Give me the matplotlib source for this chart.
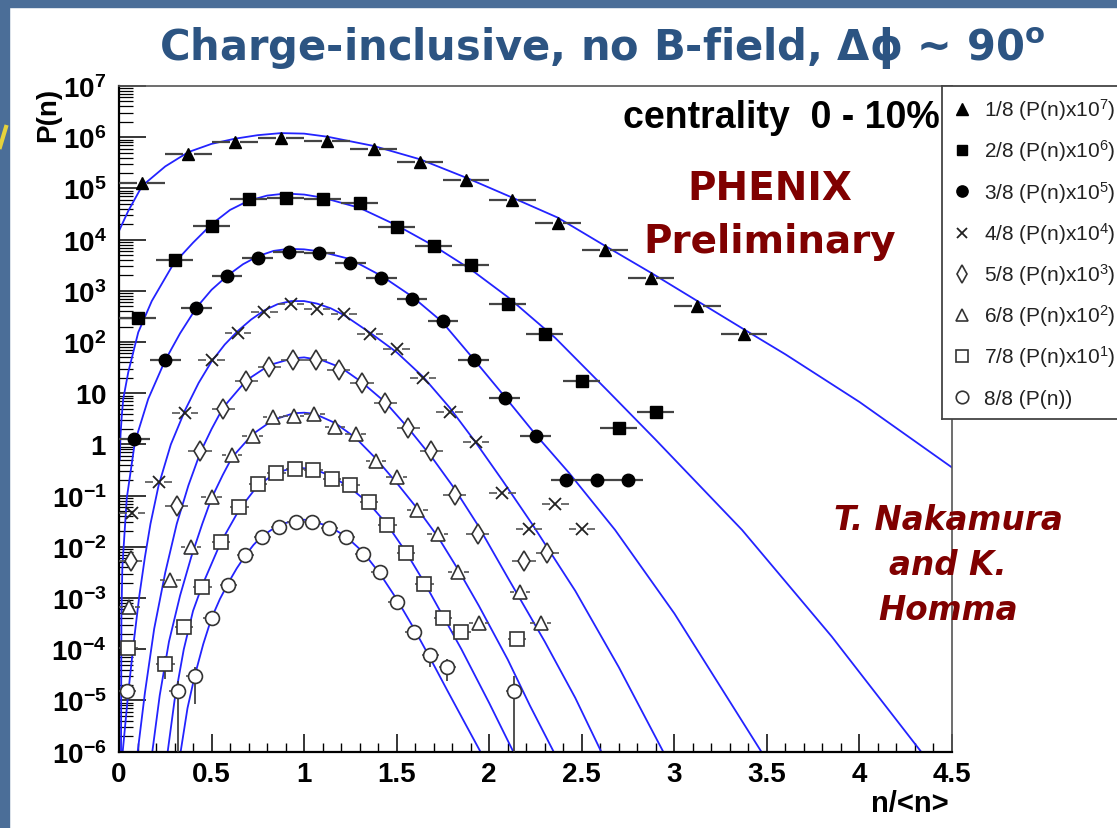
import numpy as np
import matplotlib
matplotlib.use("Agg")
import matplotlib.pyplot as plt
from matplotlib.ticker import FixedLocator, MultipleLocator, FuncFormatter, LogLocator, NullFormatter
from matplotlib.patches import Rectangle
from matplotlib.lines import Line2D

plt.rcParams['font.family'] = ['Liberation Sans', 'DejaVu Sans']
plt.rcParams['font.weight'] = 'bold'
plt.rcParams['mathtext.fontset'] = 'custom'
plt.rcParams['mathtext.rm'] = 'Liberation Sans'
plt.rcParams['mathtext.bf'] = 'Liberation Sans:bold'
plt.rcParams['mathtext.it'] = 'Liberation Sans:italic'
plt.rcParams['mathtext.default'] = 'regular'

# ---------------- data (n/<n>, log10 of scaled P(n)) ----------------
labels = ["1/8 (P(n)x10$^{7}$)", "2/8 (P(n)x10$^{6}$)", "3/8 (P(n)x10$^{5}$)",
          "4/8 (P(n)x10$^{4}$)", "5/8 (P(n)x10$^{3}$)", "6/8 (P(n)x10$^{2}$)",
          "7/8 (P(n)x10$^{1}$)", "8/8 (P(n))"]

s1_x = [0.125, 0.375, 0.625, 0.875, 1.125, 1.375, 1.625, 1.875, 2.125, 2.37, 2.625, 2.875, 3.125, 3.375]
s1_lp = [5.11, 5.67, 5.91, 5.99, 5.93, 5.76, 5.52, 5.16, 4.77, 4.33, 3.79, 3.26, 2.70, 2.15]

s2_x = [0.1, 0.3, 0.5, 0.7, 0.9, 1.1, 1.3, 1.5, 1.7, 1.9, 2.1, 2.3, 2.5, 2.7, 2.9]
s2_lp = [2.46, 3.60, 4.27, 4.80, 4.82, 4.79, 4.72, 4.25, 3.88, 3.50, 2.74, 2.16, 1.24, 0.33, 0.63]

s3_x = [0.083, 0.25, 0.417, 0.583, 0.75, 0.917, 1.083, 1.25, 1.417, 1.583, 1.75, 1.917, 2.083, 2.25,
        2.417, 2.583, 2.75]
s3_lp = [0.10, 1.65, 2.67, 3.29, 3.64, 3.76, 3.73, 3.55, 3.26, 2.85, 2.41, 1.65, 0.90, 0.17,
         -0.70, -0.70, -0.70]

s4_x = [0.071, 0.214, 0.357, 0.5, 0.643, 0.786, 0.929, 1.071, 1.214, 1.357, 1.5, 1.643, 1.786, 1.929,
        2.071, 2.214, 2.357, 2.5]
s4_lp = [-1.33, -0.74, 0.62, 1.65, 2.17, 2.58, 2.75, 2.64, 2.55, 2.15, 1.86, 1.29, 0.63, 0.04,
         -0.95, -1.65, -1.17, -1.65]

s5_x = [0.0625, 0.3125, 0.4375, 0.5625, 0.6875, 0.8125, 0.9375, 1.0625, 1.1875, 1.3125, 1.4375,
        1.5625, 1.6875, 1.8125, 1.9375, 2.1875, 2.3125]
s5_lp = [-2.28, -1.21, -0.12, 0.69, 1.23, 1.51, 1.64, 1.64, 1.45, 1.20, 0.81, 0.33, -0.12, -0.98,
         -1.74, -2.27, -2.11]

s6_x = [0.056, 0.278, 0.389, 0.5, 0.611, 0.722, 0.833, 0.944, 1.056, 1.167, 1.278, 1.389, 1.5, 1.611,
        1.722, 1.833, 1.944, 2.167, 2.278]
s6_lp = [-3.18, -2.65, -2.0, -1.03, -0.20, 0.17, 0.53, 0.56, 0.59, 0.35, 0.20, -0.32, -0.64, -1.28,
         -1.74, -2.49, -3.48, -2.89, -3.48]

s7_x = [0.05, 0.25, 0.35, 0.45, 0.55, 0.65, 0.75, 0.85, 0.95, 1.05, 1.15, 1.25, 1.35, 1.45, 1.55,
        1.65, 1.75, 1.85, 2.15]
s7_lp = [-3.98, -4.28, -3.57, -2.78, -1.91, -1.23, -0.77, -0.55, -0.47, -0.49, -0.68, -0.79, -1.12,
         -1.57, -2.12, -2.73, -3.38, -3.67, -3.80]

s8_x = [0.045, 0.318, 0.409, 0.5, 0.591, 0.682, 0.773, 0.864, 0.955, 1.045, 1.136, 1.227, 1.318,
        1.409, 1.5, 1.591, 1.682, 1.773, 2.136]
s8_lp = [-4.81, -4.81, -4.52, -3.39, -2.74, -2.15, -1.80, -1.61, -1.51, -1.52, -1.64, -1.80, -2.13,
         -2.49, -3.08, -3.66, -4.12, -4.34, -4.81]

# half bin widths (horizontal error bars)
half_bin = [0.125, 0.1, 0.0833, 0.0714, 0.0625, 0.0556, 0.05, 0.0455]

# vertical error bars (few visible ones)
verr_x = [0.25, 0.318, 0.409, 1.682, 1.773, 2.136]
verr_lo = [-4.58, -6.5, -5.07, -4.35, -4.62, -6.5]
verr_hi = [-4.13, -4.62, -4.35, -4.0, -4.19, -4.52]

# fit curves
c1_x = [0.0, 0.05, 0.125, 0.25, 0.375, 0.5, 0.625, 0.75, 0.875, 1.0, 1.125, 1.375, 1.625, 1.875, 2.125,
        2.37, 2.625, 2.875, 3.125, 3.375, 3.6, 4.0, 4.5]
c1_lp = [4.17, 4.56, 5.05, 5.43, 5.71, 5.87, 5.97, 6.04, 6.08, 6.07, 6.01, 5.83, 5.57, 5.21, 4.82,
         4.43, 3.88, 3.35, 2.80, 2.25, 1.76, 0.83, -0.45]

c2_x = [0.004, 0.0085, 0.015, 0.023, 0.05, 0.104, 0.177, 0.293, 0.4, 0.5, 0.6, 0.7, 0.8, 0.9, 1.0,
        1.1, 1.3, 1.5, 1.7, 1.9, 2.1, 2.357, 2.645, 2.897, 3.366, 3.85, 4.333]
c2_lp = [-0.3, 0.2, 0.56, 0.89, 1.41, 2.19, 2.80, 3.52, 3.94, 4.30, 4.58, 4.76, 4.86, 4.90, 4.88,
         4.82, 4.62, 4.28, 3.88, 3.42, 2.88, 2.08, 1.03, 0.10, -1.67, -3.75, -6.0]

c3_x = [0.011, 0.013, 0.018, 0.042, 0.086, 0.158, 0.249, 0.33, 0.42, 0.5, 0.587, 0.67, 0.753, 0.835,
        0.915, 1.0, 1.086, 1.248, 1.419, 1.585, 1.744, 1.915, 2.087, 2.249, 2.43, 2.68, 3.0, 3.47]
c3_lp = [-6.0, -3.4, -2.4, -1.05, 0.05, 0.89, 1.64, 2.17, 2.68, 3.02, 3.30, 3.52, 3.68, 3.78,
         3.82, 3.81, 3.77, 3.62, 3.29, 2.885, 2.40, 1.67, 0.92, 0.20, -0.55, -1.67, -3.3, -6.0]

c4_x = [0.02, 0.05, 0.08, 0.11, 0.14, 0.17, 0.214, 0.28, 0.357, 0.43, 0.5, 0.571, 0.643, 0.714, 0.786,
        0.857, 0.93, 1.0, 1.07, 1.143, 1.214, 1.357, 1.5, 1.643, 1.786, 1.929, 2.071, 2.231, 2.465,
        2.7, 2.94]
c4_lp = [-6.0, -4.85, -3.85, -2.95, -2.2, -1.55, -0.80, 0.0, 0.67, 1.2, 1.62, 1.95, 2.22, 2.44, 2.62,
         2.74, 2.80, 2.80, 2.75, 2.66, 2.53, 2.18, 1.80, 1.32, 0.72, 0.03, -0.70, -1.55, -2.86,
         -4.35, -6.0]

c5_x = [0.101, 0.14, 0.19, 0.25, 0.312, 0.375, 0.44, 0.5, 0.5625, 0.6875, 0.8125, 0.9375, 1.0, 1.1,
        1.2, 1.31, 1.44, 1.56, 1.69, 1.81, 1.934, 2.1, 2.3, 2.465, 2.605]
c5_lp = [-6.0, -4.85, -3.6, -2.5, -1.55, -0.8, -0.15, 0.3, 0.72, 1.25, 1.55, 1.68, 1.70, 1.64,
         1.50, 1.22, 0.82, 0.33, -0.25, -0.85, -1.55, -2.6, -3.85, -4.95, -6.0]

c6_x = [0.18, 0.22, 0.27, 0.33, 0.39, 0.45, 0.5, 0.56, 0.611, 0.722, 0.833, 0.944, 1.0, 1.056, 1.167,
        1.278, 1.389, 1.5, 1.611, 1.722, 1.833, 1.944, 2.1, 2.22, 2.348]
c6_lp = [-6.0, -4.9, -3.85, -2.95, -2.2, -1.55, -1.05, -0.6, -0.25, 0.2, 0.48, 0.61, 0.62, 0.60,
         0.42, 0.13, -0.28, -0.75, -1.25, -1.80, -2.45, -3.15, -4.2, -5.1, -6.0]

c7_x = [0.263, 0.30, 0.35, 0.40, 0.45, 0.55, 0.65, 0.75, 0.85, 0.95, 1.05, 1.15, 1.25, 1.35, 1.45,
        1.55, 1.65, 1.75, 1.85, 2.0, 2.13]
c7_lp = [-6.0, -5.0, -4.0, -3.25, -2.75, -1.91, -1.27, -0.80, -0.55, -0.45, -0.48, -0.62, -0.85,
         -1.15, -1.57, -2.10, -2.70, -3.35, -4.0, -5.05, -6.0]

c8_x = [0.333, 0.37, 0.409, 0.455, 0.5, 0.545, 0.591, 0.636, 0.682, 0.727, 0.773, 0.864, 0.955, 1.0,
        1.045, 1.136, 1.227, 1.318, 1.409, 1.5, 1.591, 1.682, 1.773, 1.87, 1.96]
c8_lp = [-6.0, -5.15, -4.52, -3.9, -3.39, -3.02, -2.70, -2.42, -2.17, -1.96, -1.79, -1.57, -1.48,
         -1.47, -1.50, -1.60, -1.80, -2.10, -2.52, -3.02, -3.58, -4.18, -4.80, -5.45, -6.05]

series_x = [s1_x, s2_x, s3_x, s4_x, s5_x, s6_x, s7_x, s8_x]
series_lp = [s1_lp, s2_lp, s3_lp, s4_lp, s5_lp, s6_lp, s7_lp, s8_lp]
curves_x = [c1_x, c2_x, c3_x, c4_x, c5_x, c6_x, c7_x, c8_x]
curves_lp = [c1_lp, c2_lp, c3_lp, c4_lp, c5_lp, c6_lp, c7_lp, c8_lp]

# ---------------- styles ----------------
styles = [
    dict(marker='^', ms=9, mfc='black', mec='black', mew=1.0),
    dict(marker='s', ms=8.5, mfc='black', mec='black', mew=1.0),
    dict(marker='o', ms=9, mfc='black', mec='black', mew=1.0),
    dict(marker='x', ms=8.5, mfc='none', mec='#222222', mew=1.3),
    dict(marker='d', ms=10, mfc='white', mec='#333333', mew=1.2),
    dict(marker='^', ms=10, mfc='white', mec='#333333', mew=1.2),
    dict(marker='s', ms=9.5, mfc='white', mec='#333333', mew=1.2),
    dict(marker='o', ms=10, mfc='white', mec='#333333', mew=1.2),
]
gaps = [0.028, 0.026, 0.026, 0.030, 0.022, 0.032, 0.030, 0.034]
err_colors = ['#444444'] * 3 + ['#555555'] * 5
err_lw = [1.6, 1.6, 1.6, 1.2, 1.2, 1.2, 1.2, 1.2]

W, H = 1117, 829
fig = plt.figure(figsize=(W / 100, H / 100), dpi=100, facecolor='white')


def fx(px):
    return px / W


def fy(py):
    return 1 - py / H


# slide background strips
slide_blue = '#4b6e98'
fig.add_artist(Rectangle((0, 0), fx(9), 1, transform=fig.transFigure, color=slide_blue, zorder=0))
fig.add_artist(Rectangle((0, fy(8)), 1, 8 / H, transform=fig.transFigure, color=slide_blue, zorder=0))
fig.add_artist(Line2D([0, fx(6)], [fy(148), fy(128)], transform=fig.transFigure,
                      color='#e6d23c', lw=3, zorder=1))

ax = fig.add_axes([fx(119), fy(752.7), (952 - 119) / W, (752.7 - 87) / H])
ax.set_yscale('log')
ax.set_xlim(0, 4.5)
ax.set_ylim(1e-6, 1e7)

curve_color = '#2323ff'
for cx, clp in zip(curves_x, curves_lp):
    ax.plot(cx, 10.0 ** np.array(clp), color=curve_color, lw=1.3, zorder=2)

for i in range(8):
    x = np.array(series_x[i])
    y = 10.0 ** np.array(series_lp[i])
    hb, g = half_bin[i], gaps[i]
    ax.hlines(y, x - hb, x - g, color=err_colors[i], lw=err_lw[i], zorder=3)
    ax.hlines(y, x + g, x + hb, color=err_colors[i], lw=err_lw[i], zorder=3)
    ax.plot(x, y, ls='none', zorder=4, **styles[i])

ax.vlines(verr_x, 10.0 ** np.array(verr_lo), 10.0 ** np.array(verr_hi),
          color='#333333', lw=1.2, zorder=3)

# axes styling (ROOT like)
for side in ['left', 'bottom']:
    ax.spines[side].set_linewidth(1.6)
    ax.spines[side].set_color('black')
for side in ['top', 'right']:
    ax.spines[side].set_linewidth(1.2)
    ax.spines[side].set_color('#555555')

ax.xaxis.set_major_locator(MultipleLocator(0.5))
ax.xaxis.set_minor_locator(MultipleLocator(0.1))
ax.xaxis.set_major_formatter(FuncFormatter(lambda v, p: '%g' % v))


def yfmt(v, p):
    e = int(round(np.log10(v)))
    if e == 0:
        return r'$\mathbf{1}\ $'
    if e == 1:
        return r'$\mathbf{10}\ $'
    return r'$\mathbf{10^{%d}}$' % e


ax.yaxis.set_major_locator(FixedLocator(10.0 ** np.arange(-6, 8)))
ax.yaxis.set_major_formatter(FuncFormatter(yfmt))
ax.yaxis.set_minor_locator(LogLocator(base=10, subs=np.arange(2, 10), numticks=60))
ax.yaxis.set_minor_formatter(NullFormatter())

ax.tick_params(axis='x', which='major', direction='in', length=13, width=1.1,
               labelsize=20, pad=7, top=False)
ax.tick_params(axis='x', which='minor', direction='in', length=6.5, width=1.0, top=False)
ax.tick_params(axis='y', which='major', direction='in', length=19.5, width=1.1,
               labelsize=20, pad=9, right=False)
ax.tick_params(axis='y', which='minor', direction='in', length=10, width=0.9, right=False)

ax.set_xlabel('n/<n>', fontsize=21, fontweight='bold', loc='right')
ax.xaxis.set_label_coords(1 - 3 / 833, -(790 - 752.7) / 665.7)
ax.set_ylabel('P(n)', fontsize=20, fontweight='bold', loc='top')
ax.yaxis.set_label_coords((61 - 119) / 833, 0.998)

# ---------------- legend (ROOT style box) ----------------
lx = fig.add_axes([fx(942), fy(420), 200 / W, (420 - 87) / H])
lx.set_xlim(942, 1142)
lx.set_ylim(420, 87)
lx.set_xticks([])
lx.set_yticks([])
for s in lx.spines.values():
    s.set_color('#444444')
    s.set_linewidth(1.3)
leg_styles = [dict(st) for st in styles]
for st in leg_styles:
    st['ms'] = st['ms'] * 0.9
for i in range(8):
    yy = 110 + 41.2 * i
    lx.plot([962], [yy], ls='none', **leg_styles[i])
    lx.text(984, yy + 7.0, labels[i], ha='left', va='baseline', fontsize=15,
            fontweight='normal', color='#222222')

# ---------------- texts ----------------
fig.text(fx(602), fy(60),
         r'Charge-inclusive, no B-field, $\mathrm{\Delta\phi}$ ~ 90$^{\mathbf{o}}$',
         ha='center', va='baseline', fontsize=30, fontweight='bold', family='DejaVu Sans',
         color='#2c5482', math_fontfamily='dejavusans')

fig.text(fx(940), fy(128), 'centrality  0 - 10%', ha='right', va='baseline',
         fontsize=27, fontweight='bold', color='black')

dark_red = '#800000'
fig.text(fx(770), fy(200), 'PHENIX', ha='center', va='baseline', fontsize=28,
         fontweight='bold', family='DejaVu Sans', color=dark_red)
fig.text(fx(770), fy(253), 'Preliminary', ha='center', va='baseline', fontsize=28,
         fontweight='bold', family='DejaVu Sans', color=dark_red)

for txt, base in [('T. Nakamura', 530), ('and K.', 575), ('Homma', 620)]:
    fig.text(fx(948), fy(base), txt, ha='center', va='baseline', fontsize=23.5,
             fontweight='bold', style='italic', family='DejaVu Sans', color=dark_red)

fig.savefig('out.png', dpi=100, facecolor='white')
